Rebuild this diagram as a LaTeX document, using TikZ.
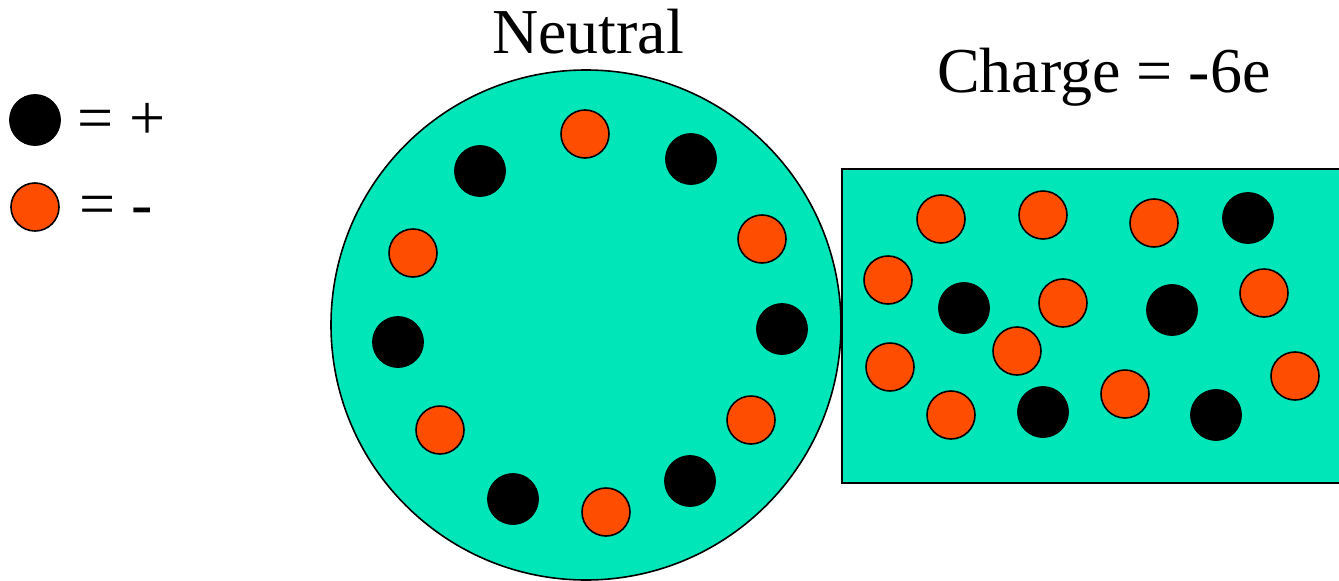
\documentclass[tikz,border=0pt]{standalone}
\usepackage{fontspec}
\setmainfont{Liberation Serif}
\definecolor{teal1}{HTML}{00E6B8}
\definecolor{orng}{HTML}{FF4D00}
\tikzset{
  posq/.style={circle, fill=black, draw=black, line width=0.8pt, minimum size=51pt, inner sep=0pt},
  negq/.style={circle, fill=orng, draw=black, line width=1.6pt, minimum size=48pt, inner sep=0pt},
  lbl/.style={font=\fontsize{64}{70}\selectfont, inner sep=0pt}
}
\begin{document}
\begin{tikzpicture}[x=1pt,y=-1pt]
\clip (0,0) rectangle (1339,581);
\fill[white] (0,0) rectangle (1339,581);
% legend
\node[posq] (lp) at (35,120) {};
\node[negq] (ln) at (35,207) {};
\node[lbl, anchor=base west] (lpt) at (77,139) {= +};
\node[lbl, anchor=base west] (lnt) at (79,225) {= -};
% titles
\node[lbl, anchor=base] (tneu) at (588,53) {Neutral};
\node[lbl, anchor=base] (tchg) at (1104,92) {Charge = -6e};
% neutral sphere
\node[circle, fill=teal1, draw=black, line width=1.6pt, minimum size=510pt, inner sep=0pt] (sphere) at (586,325) {};
\node[negq] (s1) at (585,134) {};
\node[posq] (s2) at (480,171) {};
\node[posq] (s3) at (691,159) {};
\node[negq] (s4) at (762,239) {};
\node[negq] (s5) at (413,253) {};
\node[posq] (s6) at (398,342) {};
\node[posq] (s7) at (782,329) {};
\node[negq] (s8) at (440,430) {};
\node[negq] (s9) at (751,420) {};
\node[posq] (s10) at (513,499) {};
\node[negq] (s11) at (606,512) {};
\node[posq] (s12) at (690,481) {};
% charged block
\draw[fill=teal1, line width=2.4pt] (842,169) rectangle (1350,483);
\node[negq] (r1) at (941,219) {};
\node[negq] (r2) at (1043,215) {};
\node[negq] (r3) at (1154,223) {};
\node[posq] (r4) at (1248,218) {};
\node[negq] (r5) at (888,280) {};
\node[posq] (r6) at (964,308) {};
\node[negq] (r7) at (1063,303) {};
\node[posq] (r8) at (1172,310) {};
\node[negq] (r9) at (1264,293) {};
\node[negq] (r10) at (1017,351) {};
\node[negq] (r11) at (890,367) {};
\node[negq] (r12) at (951,415) {};
\node[posq] (r13) at (1043,412) {};
\node[negq] (r14) at (1125,394) {};
\node[posq] (r15) at (1216,415) {};
\node[negq] (r16) at (1295,376) {};
\end{tikzpicture}
\end{document}
